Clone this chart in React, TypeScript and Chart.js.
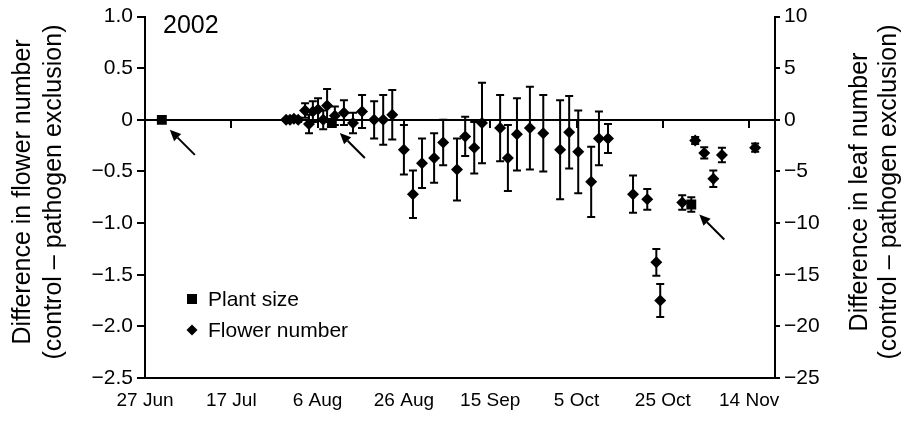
import { useEffect, useRef } from 'react';
import { Chart, registerables } from 'chart.js';

Chart.register(...registerables);

// ---- data ----
const tickDays = [0, 20, 40, 60, 80, 100, 120, 140]; // days since 27 Jun 2002
const tickLabels = ['27 Jun', '17 Jul', '6 Aug', '26 Aug', '15 Sep', '5 Oct', '25 Oct', '14 Nov'];

const leftTicks = [1.0, 0.5, 0, -0.5, -1.0, -1.5, -2.0, -2.5];
const rightTicks = [10, 5, 0, -5, -10, -15, -20, -25];

const flowerDay = [
  32.7, 33.6, 34.5, 35.5, 37.1, 38.0, 38.9, 40.1, 41.3, 42.2, 44.0, 46.1, 48.2, 50.3,
  53.1, 55.2, 57.3, 60.0, 62.1, 64.2, 67.0, 69.1, 72.3, 74.2, 76.3, 78.1, 82.3, 84.1,
  86.2, 89.2, 92.3, 96.2, 98.3, 100.4, 103.4, 105.2, 107.3, 113.1, 116.4, 118.5, 119.4,
  124.5, 127.5, 129.6, 131.7, 133.7, 141.4,
];
const flowerMean = [
  0, 0, 0.01, 0, 0.09, -0.04, 0.08, 0.1, 0, 0.14, 0.04, 0.07, -0.03, 0.08,
  0, 0, 0.05, -0.29, -0.72, -0.42, -0.37, -0.22, -0.48, -0.16, -0.27, -0.03, -0.08, -0.37,
  -0.14, -0.08, -0.13, -0.29, -0.12, -0.31, -0.6, -0.18, -0.18, -0.72, -0.77, -1.38, -1.75,
  -0.8, -0.2, -0.32, -0.57, -0.34, -0.27,
];
const flowerErr = [
  0.01, 0.01, 0.02, 0.02, 0.07, 0.09, 0.1, 0.11, 0.09, 0.16, 0.09, 0.12, 0.1, 0.16,
  0.18, 0.24, 0.24, 0.24, 0.23, 0.24, 0.24, 0.22, 0.3, 0.19, 0.25, 0.39, 0.32, 0.32,
  0.35, 0.4, 0.37, 0.48, 0.35, 0.4, 0.34, 0.26, 0.14, 0.18, 0.1, 0.13, 0.16,
  0.07, 0.035, 0.055, 0.08, 0.07, 0.04,
];

const plantDay = [3.9, 43.3, 126.6];
const plantLeaf = [0, -0.3, -8.2];
const plantErr = [0, 0, 0.7];

const FONT = "'Liberation Sans', Arial, Helvetica, sans-serif";
const fmtSigned = (v: number, digits: number) =>
  v === 0 ? '0' : (v < 0 ? '\u2212' : '') + Math.abs(v).toFixed(digits);

// ---- plugins ----
const errorBars = {
  id: 'errorBars',
  beforeDatasetsDraw(chart: any) {
    const ctx = chart.ctx;
    chart.data.datasets.forEach((ds: any, i: number) => {
      const errs: number[] | undefined = ds.errors;
      if (!errs) return;
      const meta = chart.getDatasetMeta(i);
      const ys = chart.scales[meta.yAxisID];
      ctx.save();
      ctx.strokeStyle = '#000';
      ctx.lineWidth = 2;
      meta.data.forEach((el: any, j: number) => {
        const e = errs[j];
        if (!e) return;
        const v = ds.data[j].y;
        const x = el.x;
        const yt = ys.getPixelForValue(v + e);
        const yb = ys.getPixelForValue(v - e);
        ctx.beginPath();
        ctx.moveTo(x, yt);
        ctx.lineTo(x, yb);
        ctx.moveTo(x - 4, yt);
        ctx.lineTo(x + 4, yt);
        ctx.moveTo(x - 4, yb);
        ctx.lineTo(x + 4, yb);
        ctx.stroke();
      });
      ctx.restore();
    });
  },
};

const annotations = {
  id: 'annotations',
  afterDraw(chart: any) {
    const ctx = chart.ctx;
    const ca = chart.chartArea;
    ctx.save();
    ctx.fillStyle = '#000';
    ctx.strokeStyle = '#000';

    // year label
    ctx.font = `25px ${FONT}`;
    ctx.textBaseline = 'middle';
    ctx.textAlign = 'left';
    ctx.fillText('2002', ca.left + 18, ca.top + 10);

    // legend
    ctx.font = `21px ${FONT}`;
    const lx = ca.left + 47;
    const y1 = ca.bottom - 79;
    const y2 = ca.bottom - 48;
    ctx.fillRect(lx - 5, y1 - 5, 10, 10);
    ctx.beginPath();
    ctx.moveTo(lx, y2 - 5.5);
    ctx.lineTo(lx + 5.5, y2);
    ctx.lineTo(lx, y2 + 5.5);
    ctx.lineTo(lx - 5.5, y2);
    ctx.closePath();
    ctx.fill();
    ctx.fillText('Plant size', ca.left + 63, y1 + 1);
    ctx.fillText('Flower number', ca.left + 63, y2 + 1);

    // arrows pointing to the plant size points
    const meta = chart.getDatasetMeta(0);
    ctx.lineWidth = 2;
    meta.data.forEach((el: any) => {
      const hx = el.x + 8, hy = el.y + 10;
      const tx = el.x + 33, ty = el.y + 35;
      const ang = Math.atan2(hy - ty, hx - tx);
      const L = 11, W = 5;
      const bx = hx - L * Math.cos(ang), by = hy - L * Math.sin(ang);
      ctx.beginPath();
      ctx.moveTo(tx, ty);
      ctx.lineTo(bx, by);
      ctx.stroke();
      ctx.beginPath();
      ctx.moveTo(hx, hy);
      ctx.lineTo(bx + W * Math.sin(ang), by - W * Math.cos(ang));
      ctx.lineTo(bx - W * Math.sin(ang), by + W * Math.cos(ang));
      ctx.closePath();
      ctx.fill();
    });

    // axis titles (both read bottom-to-top)
    ctx.font = `25px ${FONT}`;
    ctx.textAlign = 'center';
    const cy = 192;
    const drawV = (x: number, text: string) => {
      ctx.save();
      ctx.translate(x, cy);
      ctx.rotate(-Math.PI / 2);
      ctx.fillText(text, 0, 0);
      ctx.restore();
    };
    drawV(23, 'Difference in flower number');
    drawV(54, '(control \u2013 pathogen exclusion)');
    drawV(860, 'Difference in leaf number');
    drawV(889, '(control \u2013 pathogen exclusion)');
    ctx.restore();
  },
};

export default function App() {
  const ref = useRef<HTMLCanvasElement>(null);

  useEffect(() => {
    Chart.defaults.font.family = FONT;
    Chart.defaults.color = '#000';
    const chart = new Chart(ref.current as HTMLCanvasElement, {
      type: 'scatter',
      data: {
        datasets: [
          {
            label: 'Plant size',
            yAxisID: 'y2',
            data: plantDay.map((d, i) => ({ x: d, y: plantLeaf[i] })),
            errors: plantErr,
            pointStyle: 'rect',
            pointRadius: 7,
            pointBackgroundColor: '#000',
            pointBorderColor: '#000',
            pointBorderWidth: 0,
          } as any,
          {
            label: 'Flower number',
            yAxisID: 'y',
            data: flowerDay.map((d, i) => ({ x: d, y: flowerMean[i] })),
            errors: flowerErr,
            pointStyle: 'rectRot',
            pointRadius: 6,
            pointBackgroundColor: '#000',
            pointBorderColor: '#000',
            pointBorderWidth: 0,
          } as any,
        ],
      },
      options: {
        animation: false,
        responsive: false,
        devicePixelRatio: 1,
        layout: { padding: { top: 15, left: 0, right: 0, bottom: 0 } },
        plugins: { legend: { display: false }, tooltip: { enabled: false } },
        scales: {
          x: {
            type: 'linear',
            position: 'bottom',
            min: 0,
            max: 146,
            afterBuildTicks: (s: any) => {
              s.ticks = tickDays.map((v) => ({ value: v }));
            },
            afterFit: (s: any) => {
              s.height = 43;
            },
            grid: { display: true, drawOnChartArea: false, drawTicks: false },
            border: { display: true, color: '#000', width: 2 },
            ticks: {
              padding: 11,
              maxRotation: 0,
              autoSkip: false,
              color: '#000',
              font: { size: 19, family: FONT },
              callback: (v: any) => {
                const k = tickDays.indexOf(Number(v));
                return k >= 0 ? tickLabels[k] : '';
              },
            },
          },
          x0: {
            type: 'linear',
            axis: 'x',
            position: { y: 0 } as any,
            min: 0,
            max: 146,
            afterBuildTicks: (s: any) => {
              s.ticks = tickDays.map((v) => ({ value: v }));
            },
            grid: { display: true, drawOnChartArea: false, drawTicks: true, tickLength: 7, color: '#000', lineWidth: 2 },
            border: { display: true, color: '#000', width: 2 },
            ticks: { display: false },
          } as any,
          y: {
            type: 'linear',
            position: 'left',
            min: -2.5,
            max: 1.0,
            afterBuildTicks: (s: any) => {
              s.ticks = leftTicks.map((v) => ({ value: v }));
            },
            afterFit: (s: any) => {
              s.width = 145;
            },
            grid: { display: true, drawOnChartArea: false, drawTicks: true, tickLength: 8, color: '#000', lineWidth: 2 },
            border: { display: true, color: '#000', width: 2 },
            ticks: {
              padding: 4,
              color: '#000',
              font: { size: 21, family: FONT },
              callback: (v: any) => fmtSigned(Number(v), 1),
            },
          },
          y2: {
            type: 'linear',
            position: 'right',
            min: -25,
            max: 10,
            afterBuildTicks: (s: any) => {
              s.ticks = rightTicks.map((v) => ({ value: v }));
            },
            afterFit: (s: any) => {
              s.width = 129;
            },
            grid: { display: true, drawOnChartArea: false, drawTicks: true, tickLength: 5, color: '#000', lineWidth: 2 },
            border: { display: true, color: '#000', width: 2 },
            ticks: {
              padding: 4,
              color: '#000',
              font: { size: 21, family: FONT },
              callback: (v: any) => fmtSigned(Number(v), 0),
            },
          },
        },
      },
      plugins: [errorBars, annotations],
    } as any);
    return () => chart.destroy();
  }, []);

  return (
    <div style={{ position: 'fixed', left: 0, top: 0, width: 904, height: 421, background: '#fff' }}>
      <canvas ref={ref} width={904} height={421} style={{ display: 'block', width: 904, height: 421 }} />
    </div>
  );
}
